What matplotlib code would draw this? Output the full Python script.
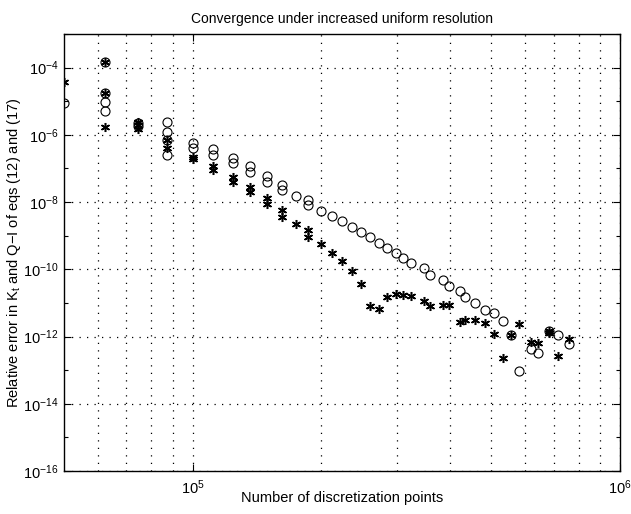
import matplotlib
matplotlib.use("Agg")
import matplotlib.pyplot as plt
from matplotlib.ticker import NullFormatter, FixedLocator

plt.rcParams['font.family'] = ['Liberation Sans', 'DejaVu Sans']
plt.rcParams['mathtext.fontset'] = 'custom'
plt.rcParams['mathtext.rm'] = 'Liberation Sans'
plt.rcParams['mathtext.it'] = 'Liberation Sans:italic'
plt.rcParams['mathtext.bf'] = 'Liberation Sans:bold'

title = "Convergence under increased uniform resolution"
xlabel = "Number of discretization points"
ylabel = r"Relative error in K$_{\rm t}$ and Q$-$I of eqs (12) and (17)"

# circles
circ_x = [5.0e4,
          6.25e4, 6.25e4, 6.25e4, 6.25e4,
          7.45e4, 7.45e4,
          8.7e4, 8.7e4, 8.7e4, 8.7e4,
          1.0e5, 1.0e5,
          1.116e5, 1.116e5,
          1.244e5, 1.244e5,
          1.364e5, 1.364e5,
          1.494e5, 1.494e5,
          1.621e5, 1.621e5,
          1.747e5,
          1.864e5, 1.864e5,
          2.0e5, 2.122e5, 2.239e5, 2.363e5, 2.481e5, 2.604e5, 2.734e5,
          2.854e5, 2.996e5, 3.112e5, 3.249e5, 3.485e5, 3.6e5, 3.86e5,
          3.988e5, 4.232e5, 4.348e5, 4.589e5, 4.842e5, 5.083e5, 5.336e5,
          5.571e5, 5.818e5, 6.206e5, 6.444e5, 6.838e5, 7.178e5, 7.577e5]
circ_y = [8.8e-6,
          1.47e-4, 1.75e-5, 9.7e-6, 5.1e-6,
          2.24e-6, 1.83e-6,
          2.4e-6, 1.21e-6, 7.0e-7, 2.51e-7,
          5.7e-7, 4.05e-7,
          3.78e-7, 2.51e-7,
          2.04e-7, 1.45e-7,
          1.18e-7, 7.8e-8,
          5.9e-8, 3.94e-8,
          3.21e-8, 2.28e-8,
          1.51e-8,
          1.15e-8, 8.1e-9,
          5.4e-9, 3.83e-9, 2.72e-9, 1.80e-9, 1.28e-9, 9.1e-10, 6.0e-10,
          4.28e-10, 3.03e-10, 2.15e-10, 1.53e-10, 1.09e-10, 6.7e-11, 4.78e-11,
          3.16e-11, 2.24e-11, 1.49e-11, 9.9e-12, 6.1e-12, 5.0e-12, 2.87e-12,
          1.10e-12, 9.3e-14, 4.2e-13, 3.2e-13, 1.45e-12, 1.10e-12, 5.9e-13]

# asterisks
star_x = [5.0e4,
          6.25e4, 6.25e4, 6.25e4,
          7.45e4, 7.45e4, 7.45e4,
          8.7e4, 8.7e4,
          1.0e5, 1.0e5,
          1.116e5, 1.116e5,
          1.244e5, 1.244e5,
          1.364e5, 1.364e5,
          1.494e5, 1.494e5,
          1.621e5, 1.621e5,
          1.747e5,
          1.864e5, 1.864e5,
          2.0e5, 2.122e5, 2.239e5, 2.363e5, 2.481e5, 2.604e5, 2.734e5,
          2.854e5, 2.996e5, 3.112e5, 3.249e5, 3.485e5, 3.6e5, 3.86e5,
          3.988e5, 4.232e5, 4.348e5, 4.589e5, 4.842e5, 5.083e5, 5.336e5,
          5.571e5, 5.818e5, 6.206e5, 6.444e5, 6.838e5, 6.838e5, 7.178e5,
          7.577e5]
star_y = [3.72e-5,
          1.47e-4, 1.75e-5, 1.71e-6,
          2.4e-6, 1.96e-6, 1.49e-6,
          7.0e-7, 4.05e-7,
          2.18e-7, 1.91e-7,
          1.18e-7, 8.95e-8,
          5.5e-8, 3.94e-8,
          2.79e-8, 1.99e-8,
          1.32e-8, 8.7e-9,
          5.8e-9, 3.58e-9,
          2.21e-9,
          1.47e-9, 9.1e-10,
          5.6e-10, 3.03e-10, 1.75e-10, 8.8e-11, 3.63e-11, 8.0e-12, 6.5e-12,
          1.49e-11, 1.83e-11, 1.71e-11, 1.59e-11, 1.13e-11, 8.0e-12, 8.6e-12,
          8.6e-12, 2.69e-12, 3.08e-12, 3.08e-12, 2.51e-12, 1.18e-12, 2.3e-13,
          1.10e-12, 2.34e-12, 6.8e-13, 6.4e-13, 1.45e-12, 1.26e-12, 2.6e-13,
          8.4e-13]

fig = plt.figure(figsize=(6.31, 5.14), dpi=100)
ax = fig.add_axes([64/631, 1-471/514, (620-64)/631, (471-34)/514])

ax.set_xscale('log')
ax.set_yscale('log')
ax.set_xlim(5e4, 1e6)
ax.set_ylim(1e-16, 1e-3)

ax.plot(circ_x, circ_y, linestyle='none', marker='o', markersize=6.5,
        markerfacecolor='none', markeredgecolor='black', markeredgewidth=0.8)
ax.plot(star_x, star_y, linestyle='none', marker=(6, 2, 0), markersize=6.5,
        color='black', markeredgewidth=1.1)

# ticks
ax.xaxis.set_major_locator(FixedLocator([1e5, 1e6]))
ax.xaxis.set_minor_locator(FixedLocator([6e4, 7e4, 8e4, 9e4, 2e5, 3e5, 4e5,
                                         5e5, 6e5, 7e5, 8e5, 9e5]))
ax.xaxis.set_minor_formatter(NullFormatter())
ax.yaxis.set_major_locator(FixedLocator([10.0**e for e in range(-16, -3, 2)]))
ax.yaxis.set_minor_locator(FixedLocator([10.0**e for e in range(-15, -2, 2)]))
ax.yaxis.set_minor_formatter(NullFormatter())

ax.tick_params(which='both', direction='in', top=True, right=True,
               labelsize=10.5, width=0.8)
ax.tick_params(which='major', length=5)
ax.tick_params(which='minor', length=3)
ax.tick_params(axis='x', which='minor', length=0)
ax.tick_params(axis='x', which='major', pad=5)
ax.tick_params(axis='y', which='major', pad=4)

grid_style = dict(color='black', linestyle=(0, (1, 5)), linewidth=0.9)
ax.grid(True, which='major', axis='both', **grid_style)
ax.grid(True, which='minor', axis='x', **grid_style)

for s in ax.spines.values():
    s.set_linewidth(1.0)

ax.set_title(title, fontsize=10, pad=8)
ax.set_xlabel(xlabel, fontsize=10.5)
ax.set_ylabel(ylabel, fontsize=10.5)
ax.xaxis.set_label_coords(0.5, -0.045)
ax.yaxis.set_label_coords(-0.074, 0.5)

fig.savefig('out.png', dpi=100)
